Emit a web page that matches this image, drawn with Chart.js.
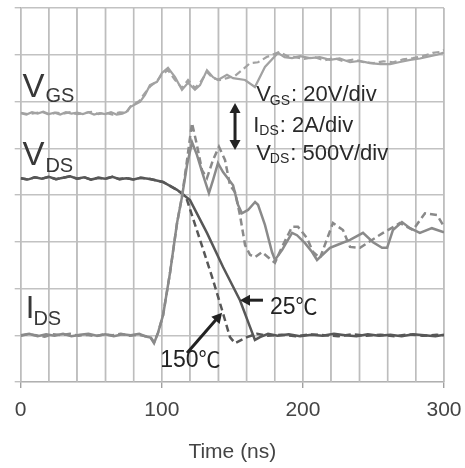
<!DOCTYPE html>
<html>
<head>
<meta charset="utf-8">
<script src="https://cdn.jsdelivr.net/npm/chart.js@4.4.1/dist/chart.umd.min.js"></script>
<style>
html,body{margin:0;padding:0;background:#fff;}
canvas{display:block;background:#fff;}
</style>
</head>
<body>
<canvas id="c" width="465" height="468"></canvas>
<script>
// ---- Data (time in ns, values in screen divisions) ----
const xTickLabels = [0, 100, 200, 300];
const xGridTicks = [0, 20, 40, 60, 80, 100, 120, 140, 160, 180, 200, 220, 240, 260, 280, 300];
const xGridStep = 20;
const yGridStep = 1;

const vgs25T = [0,4,8,12,16,20,24,28,32,36,40,44,48,52,56,60,64,68,72,75,77.5,84.5,88.1,91.6,96.6,100.1,104.4,109.4,114.3,118.6,123.5,127.1,132,136.3,139.8,146.2,150.5,159,166,173.1,182.3,187,192.3,198,205,212,219.2,226,233.4,240,247.6,255,261.8,268,276,283,290.2,295,299.3,300];
const vgs25V = [5.75,5.72,5.77,5.74,5.78,5.73,5.76,5.72,5.77,5.74,5.76,5.73,5.77,5.72,5.75,5.73,5.77,5.72,5.74,5.78,5.88,5.99,6.14,6.35,6.42,6.61,6.72,6.52,6.25,6.40,6.25,6.35,6.67,6.52,6.46,6.57,6.50,6.46,6.31,6.74,7.04,6.95,6.93,6.97,6.93,6.95,6.89,6.92,6.84,6.87,6.82,6.80,6.80,6.84,6.89,6.92,6.97,7.00,7.04,7.05];

const vgs150T = [0,5,10,15,20,25,30,35,40,45,50,55,60,65,70,75,78,84,88,92,97,100.1,104.4,109.4,114.3,118.6,123.5,127.1,132,136.3,141.2,146.2,151.9,156.8,162.5,168.2,174.3,183.5,189,194.2,201,208,215,222,229,236,243,250,257,264,271,278,285,292,297,300];
const vgs150V = [5.76,5.73,5.75,5.78,5.72,5.76,5.74,5.77,5.73,5.75,5.78,5.73,5.76,5.72,5.77,5.76,5.90,6.01,6.18,6.33,6.45,6.58,6.67,6.46,6.29,6.46,6.29,6.40,6.63,6.50,6.46,6.50,6.55,6.67,6.82,6.84,6.95,7.06,6.97,6.95,6.91,6.95,6.88,6.93,6.86,6.90,6.84,6.82,6.86,6.84,6.90,6.93,6.97,7.04,7.06,7.10];

const ids25T = [0,6,12,18,24,30,36,42,48,54,60,66,72,78,84,88,92,94.5,97.3,100.9,105.8,110.8,114.3,117.9,121.4,124.9,129.2,133.4,136.3,139.8,143.4,150.5,154,156.8,161.1,166.1,168.2,173.1,178.1,180.2,185.2,192.3,195.8,201.5,206.5,210,219.2,224.2,233.4,242.6,249.7,256.1,259.7,263.8,270.2,275.9,282.9,291.4,299.3,300];
const ids25V = [1.00,1.03,0.98,1.02,0.99,1.03,0.98,1.01,1.03,0.99,1.02,0.98,1.02,1.00,1.03,0.98,0.95,0.83,1.05,1.43,2.33,3.40,3.96,4.64,5.13,4.86,4.43,4.04,4.32,4.68,4.49,4.21,3.79,3.61,3.68,3.85,3.79,3.36,2.78,2.61,2.82,3.19,3.14,2.97,2.78,2.61,2.87,2.93,3.04,3.19,2.99,2.87,2.87,3.25,3.42,3.29,3.19,3.29,3.21,3.21];

const ids150T = [0,5,11,17,23,29,35,41,47,53,59,65,71,77,83,89,92,94.5,97.3,100.9,105.8,110.8,114.3,117.9,121.4,124.9,128.5,132,136.3,140.5,144.8,148.3,151.9,155.4,159,162.5,166.1,171,175.3,180.2,185.2,192.3,196.5,202.9,207.2,212.1,221.3,228.4,233.4,240.5,245.4,256.8,268.8,278,286.5,295.1,299.3,300];
const ids150V = [0.99,1.02,1.00,0.97,1.02,1.00,1.03,0.99,1.01,0.98,1.02,1.00,1.03,0.99,1.01,0.98,0.96,0.85,1.05,1.43,2.33,3.40,3.96,4.75,5.54,5.07,4.53,4.36,4.75,5.03,4.75,4.21,4.06,3.57,2.93,2.72,2.67,2.78,2.67,2.55,2.89,3.32,3.32,3.08,2.78,2.65,3.40,3.25,2.89,2.87,2.97,3.19,3.40,3.25,3.61,3.57,3.36,3.36];

const vds25T = [0,5,10,15,20,25,30,35,40,45,50,55,60,65,70,75,80,85,91.7,100.8,110.8,120,132,143.4,155.4,162.5,166,169.6,175.3,182,190,198,206,214,222,230,238,246,254,262,270,278,286,294,300];
const vds25V = [4.36,4.33,4.38,4.35,4.39,4.34,4.37,4.40,4.35,4.38,4.33,4.37,4.35,4.39,4.34,4.36,4.33,4.37,4.34,4.28,4.11,3.89,3.19,2.46,1.75,1.18,0.90,0.96,1.03,0.99,1.02,0.98,1.01,0.99,1.03,1.00,0.98,1.02,0.99,1.01,0.98,1.02,1.00,0.98,1.01];

const vds150T = [0,5,10,15,20,25,30,35,40,45,50,55,60,65,70,75,80,85,91.7,100.8,110.8,115,117.9,127.1,135.6,142.7,148.3,151.9,160.4,167.5,175,185,195,205,215,225,235,245,255,265,275,285,295,300];
const vds150V = [4.36,4.33,4.38,4.35,4.39,4.34,4.37,4.40,4.35,4.38,4.33,4.37,4.35,4.39,4.34,4.36,4.33,4.37,4.34,4.28,4.11,4.02,3.89,3.04,2.25,1.54,0.96,0.83,0.96,1.03,0.99,1.01,0.98,1.02,1.00,0.98,1.02,0.99,1.01,0.98,1.02,0.99,1.01,1.00];

const zip = (T, V) => T.map((t, i) => ({x: t, y: V[i]}));

const FONT = "'Liberation Sans', Arial, sans-serif";
const FONT_CJK = "'Noto Sans CJK JP', 'Liberation Sans', sans-serif";

const C_VGS = '#a2a2a2', C_IDS = '#8a8a8a', C_VDS = '#575757';
const C_GRID = '#c2c2c2';
const DASH = [7, 4];

function textRuns(ctx, x, y, runs, color) {
  ctx.fillStyle = color;
  ctx.textBaseline = 'alphabetic';
  ctx.textAlign = 'left';
  let cx = x;
  for (const r of runs) {
    ctx.font = r.size + 'px ' + (r.f || FONT);
    ctx.fillText(r.t, cx, y + (r.dy || 0));
    cx += ctx.measureText(r.t).width + (r.gap || 0);
  }
}

function arrowHead(ctx, x1, y1, x2, y2, len, w) {
  const a = Math.atan2(y2 - y1, x2 - x1);
  ctx.beginPath();
  ctx.moveTo(x2, y2);
  ctx.lineTo(x2 - len * Math.cos(a) + w / 2 * Math.sin(a), y2 - len * Math.sin(a) - w / 2 * Math.cos(a));
  ctx.lineTo(x2 - len * Math.cos(a) - w / 2 * Math.sin(a), y2 - len * Math.sin(a) + w / 2 * Math.cos(a));
  ctx.closePath();
  ctx.fill();
}

function arrow(ctx, x1, y1, x2, y2, both) {
  const a = Math.atan2(y2 - y1, x2 - x1);
  const len = 10, w = 11;
  const sx = both ? x1 + (len - 2) * Math.cos(a) : x1;
  const sy = both ? y1 + (len - 2) * Math.sin(a) : y1;
  ctx.beginPath();
  ctx.moveTo(sx, sy);
  ctx.lineTo(x2 - (len - 2) * Math.cos(a), y2 - (len - 2) * Math.sin(a));
  ctx.stroke();
  arrowHead(ctx, x1, y1, x2, y2, len, w);
  if (both) arrowHead(ctx, x2, y2, x1, y1, len, w);
}

// extra pass for the 20 ns vertical grid, positioned through the x scale
const minorGrid = {
  id: 'minorGrid',
  beforeDatasetsDraw(chart) {
    const {ctx, chartArea: a, scales: {x}} = chart;
    ctx.save();
    ctx.setLineDash([]);
    ctx.strokeStyle = '#bdbdbd';
    ctx.lineWidth = 1.4;
    for (const v of xGridTicks) {
      const px = x.getPixelForValue(v);
      ctx.beginPath();
      ctx.moveTo(px, a.top);
      ctx.lineTo(px, a.bottom);
      ctx.stroke();
    }
    ctx.restore();
  }
};

const annot = {
  id: 'annot',
  afterDatasetsDraw(chart) {
    const {ctx, scales: {x, y}} = chart;
    const X = t => x.getPixelForValue(t), Y = v => y.getPixelForValue(v);
    ctx.save();
    const lab = '#383838';
    textRuns(ctx, X(1.2), Y(6.10), [{t: 'V', size: 33, gap: 1}, {t: 'GS', size: 20, dy: 5}], lab);
    textRuns(ctx, X(1.2), Y(4.64), [{t: 'V', size: 33, gap: 1}, {t: 'DS', size: 20, dy: 7}], lab);
    textRuns(ctx, X(3.6), Y(1.37), [{t: 'I', size: 31, gap: -1}, {t: 'DS', size: 20, dy: 7}], lab);
    const dark = '#2a2a2a';
    textRuns(ctx, X(166.9), Y(6.01), [{t: 'V', size: 22, gap: -1}, {t: 'GS', size: 14, dy: 4, gap: 1}, {t: ': 20V/div', size: 22}], dark);
    textRuns(ctx, X(164.8), Y(5.35), [{t: 'I', size: 22, gap: 0}, {t: 'DS', size: 14, dy: 3, gap: 1}, {t: ': 2A/div', size: 22}], dark);
    textRuns(ctx, X(166.9), Y(4.75), [{t: 'V', size: 22, gap: -1}, {t: 'DS', size: 14, dy: 3, gap: 1}, {t: ': 500V/div', size: 22}], dark);
    ctx.strokeStyle = '#222';
    ctx.fillStyle = '#222';
    ctx.lineWidth = 3;
    ctx.setLineDash([]);
    arrow(ctx, X(151.9), Y(5.97), X(151.9), Y(4.96), true);
    arrow(ctx, X(117.9), Y(0.62), X(142.7), Y(1.48), false);
    arrow(ctx, X(171.7), Y(1.75), X(155.4), Y(1.75), false);
    textRuns(ctx, X(98.9), Y(0.32), [{t: '150', size: 23}, {t: '℃', size: 22, f: FONT_CJK}], '#222');
    textRuns(ctx, X(176.7), Y(1.45), [{t: '25', size: 23}, {t: '℃', size: 22, f: FONT_CJK}], '#222');
    ctx.restore();
  }
};

const ds = (label, T, V, color, width, dashed) => ({
  label, data: zip(T, V), borderColor: color, borderWidth: width,
  borderDash: dashed ? DASH : [], pointRadius: 0, tension: 0, fill: false
});

new Chart(document.getElementById('c').getContext('2d'), {
  type: 'line',
  data: {
    datasets: [
      ds('VGS 25°C', vgs25T, vgs25V, C_VGS, 2.2, false),
      ds('VGS 150°C', vgs150T, vgs150V, C_VGS, 2.2, true),
      ds('IDS 25°C', ids25T, ids25V, C_IDS, 2.5, false),
      ds('IDS 150°C', ids150T, ids150V, C_IDS, 2.5, true),
      ds('VDS 25°C', vds25T, vds25V, C_VDS, 2.5, false),
      ds('VDS 150°C', vds150T, vds150V, C_VDS, 2.5, true)
    ]
  },
  options: {
    responsive: false,
    animation: false,
    devicePixelRatio: 1,
    layout: {padding: {left: 14.7, right: 21, top: 8, bottom: 0}},
    plugins: {legend: {display: false}, tooltip: {enabled: false}},
    scales: {
      x: {
        type: 'linear', min: 0, max: 300,
        afterFit(s) { s.height = 86; s.paddingRight = 0; s.paddingLeft = 0; },
        ticks: {
          stepSize: xGridStep, autoSkip: false, maxRotation: 0, padding: 10,
          color: '#444', font: {family: FONT, size: 21},
          callback: v => xTickLabels.includes(v) ? String(v) : ''
        },
        grid: {
          color: C_GRID, lineWidth: 1.4, tickLength: 6,
          tickColor: c => (c.tick && xTickLabels.includes(c.tick.value)) ? '#a0a0a0' : 'rgba(0,0,0,0)'
        },
        border: {color: '#b0b0b0', width: 1.3},
        title: {display: true, text: 'Time (ns)', color: '#444', font: {family: FONT, size: 21}, padding: {top: 0, bottom: 3}}
      },
      y: {
        min: 0, max: 8,
        ticks: {display: false, stepSize: yGridStep},
        grid: {color: C_GRID, lineWidth: 1.4, tickLength: 6, tickColor: '#c0c0c0'},
        border: {color: '#b0b0b0', width: 1.3}
      }
    }
  },
  plugins: [minorGrid, annot]
});
</script>
</body>
</html>
